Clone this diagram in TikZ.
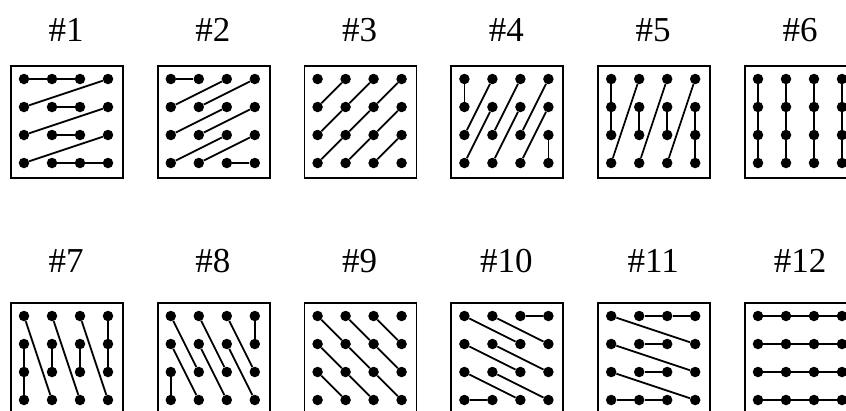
\documentclass[tikz,border=0pt]{standalone}
\usepackage{fontspec}
\setmainfont{Liberation Serif}

\begin{document}
\begin{tikzpicture}[x=1pt, y=-1pt,
    dot/.style={circle, fill, inner sep=0pt, minimum size=10.5pt},
    panel/.style={draw, line width=1.7pt, minimum size=112pt, inner sep=0pt},
    title/.style={font=\fontsize{35}{35}\selectfont},
    link/.style={line width=1.8pt}]
    \useasboundingbox (0,0) rectangle (846,410);

    % boxes, titles and the 4x4 dots (p<panel>-<col><row>)
    \foreach \n in {1,...,12}{
        \pgfmathtruncatemacro{\col}{mod(\n-1,6)}
        \pgfmathtruncatemacro{\row}{(\n-1)/6}
        \pgfmathsetmacro{\bx}{10+146.8*\col}
        \pgfmathsetmacro{\by}{65+237*\row}
        \pgfmathsetmacro{\ty}{30+231*\row}
        \node[panel, anchor=north west] (box\n) at (\bx,\by) {};
        \node[title] (title\n) at (\bx+56,\ty) {\#\n};
        \foreach \c in {1,...,4}
            \foreach \r in {1,...,4}
                \node[dot] (p\n-\c\r) at (\bx+28*\c-14, \by+28*\r-14) {};
    }

    % scan orders
    \foreach \n/\links in {
        1/{11/21,21/31,41/12,22/32,42/13,23/33,43/14,24/34,34/44},
        2/{11/21,31/12,41/22,32/13,42/23,33/14,43/24,34/44},
        3/{21/12,31/22,22/13,41/32,32/23,23/14,42/33,33/24,43/34},
        4/{11/12,21/13,22/14,31/23,32/24,41/33,42/34,43/44},
        5/{11/12,12/13,21/14,22/23,31/24,32/33,41/34,42/43,43/44},
        6/{11/12,12/13,13/14,21/22,22/23,23/24,31/32,32/33,33/34,41/42,42/43,43/44},
        7/{11/24,12/13,13/14,21/34,22/23,31/44,32/33,41/42,42/43},
        8/{11/23,21/33,31/43,41/42,12/24,22/34,32/44,13/14},
        9/{11/22,22/33,33/44,21/32,32/43,31/42,12/23,23/34,13/24},
        10/{11/32,21/42,31/41,12/33,22/43,13/34,23/44,14/24},
        11/{11/42,21/31,31/41,12/43,22/32,13/44,23/33,14/24,24/34},
        12/{11/21,21/31,31/41,12/22,22/32,32/42,13/23,23/33,33/43,14/24,24/34,34/44}}{
        \foreach \a/\b in \links
            \draw[link] (p\n-\a) -- (p\n-\b);
    }
\end{tikzpicture}
\end{document}
